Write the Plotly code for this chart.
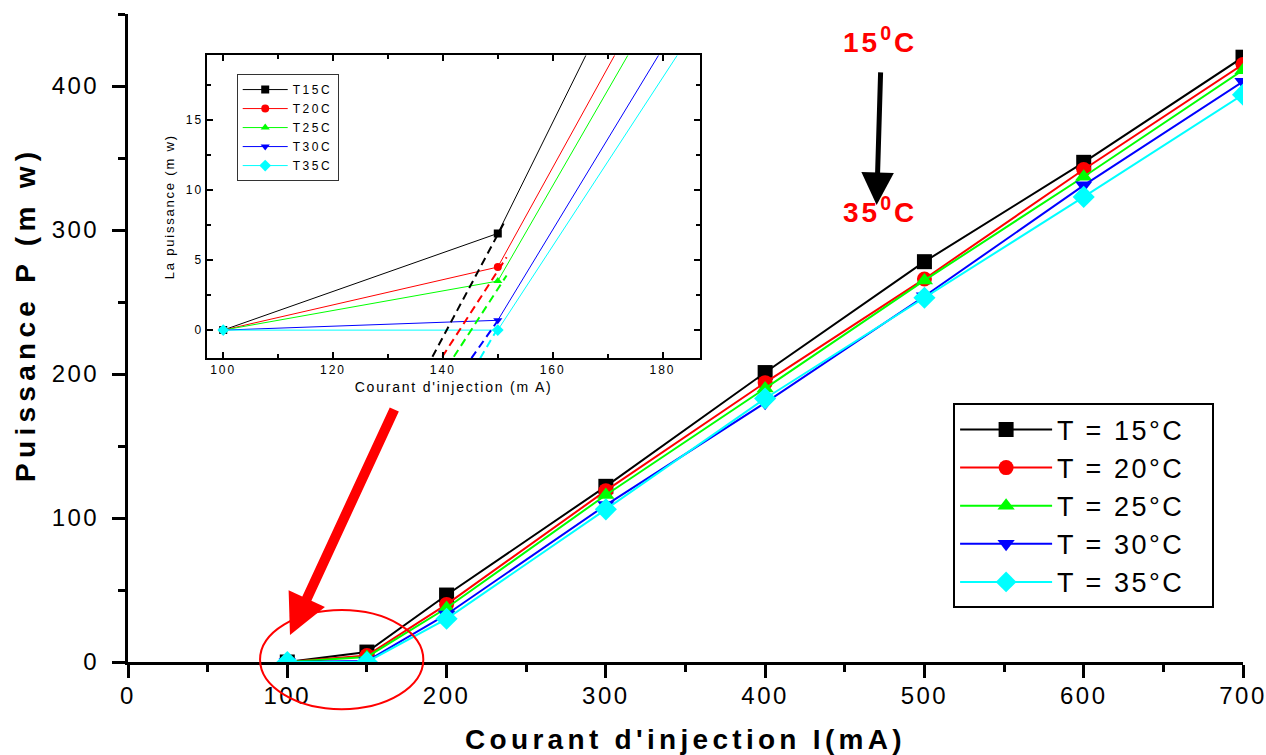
import plotly.graph_objects as go

# Injection current (mA) and optical power (mW) for each heat-sink temperature
current_ma = [100, 150, 200, 300, 400, 500, 600, 700]
power_15c = [0, 6.9, 46.5, 122, 201, 278, 347, 420]
power_20c = [0, 4.5, 40, 119, 194, 266, 342, 415]
power_25c = [0, 3.5, 37.5, 116, 190, 265, 337, 411]
power_30c = [0, 0.7, 33, 109, 180, 254, 331, 403]
power_35c = [0, 0.0, 30, 106, 183, 253, 323, 394]

temps = ["15", "20", "25", "30", "35"]
colors = ["#000000", "#ff0000", "#00ff00", "#0000ff", "#00ffff"]
symbols = ["square", "circle", "triangle-up", "triangle-down", "diamond"]
series = [power_15c, power_20c, power_25c, power_30c, power_35c]

# Threshold extrapolation segments shown in the zoomed panel
thr_x_start = [138.1, 139.9, 142.0, 145.2, 146.8]
thr_y_start = [-1.9, -1.9, -1.9, -2.0, -2.0]
thr_x_end = [151.2, 151.6, 151.6, 150.4, 150.1]
thr_y_end = [7.7, 5.2, 3.9, 0.9, 0.2]

main_xticks = [0, 100, 200, 300, 400, 500, 600, 700]
main_yticks = [0, 100, 200, 300, 400]
inset_xticks = [100, 120, 140, 160, 180]
inset_yticks = [0, 5, 10, 15]

X_RANGE = [0, 700]
Y_RANGE = [0, 450]
INSET_X_RANGE = [97.1, 186.8]
INSET_Y_RANGE = [-2.0, 19.6]

FONT = "Liberation Sans, Arial, sans-serif"
NBSP = "\u00a0"


def spaced(text, px):
    return f'<span style="letter-spacing:{px}px">{text}</span>'


def to_paper_x(v):
    return (v - X_RANGE[0]) / (X_RANGE[1] - X_RANGE[0])


def to_paper_y(v):
    return (v - Y_RANGE[0]) / (Y_RANGE[1] - Y_RANGE[0])


fig = go.Figure()

# main curves
for t, c, s, ys in zip(temps, colors, symbols, series):
    fig.add_trace(go.Scatter(
        x=current_ma, y=ys, mode="lines+markers",
        name=spaced(f"T = {t}°C", 2.5) + NBSP * 3,
        line=dict(color=c, width=2),
        marker=dict(symbol=s, size=17 if s == "diamond" else 15, color=c, line=dict(width=0)),
        xaxis="x", yaxis="y", legend="legend",
    ))

# zoomed panel curves
for t, c, s, ys in zip(temps, colors, symbols, series):
    fig.add_trace(go.Scatter(
        x=current_ma, y=ys, mode="lines+markers",
        name=spaced(f"T{t}C", 2.5),
        line=dict(color=c, width=1),
        marker=dict(symbol=s, size=9 if s == "diamond" else 8, color=c, line=dict(width=0)),
        xaxis="x2", yaxis="y2", legend="legend2",
    ))

# dashed threshold extrapolations
for c, xs, ys_, xe, ye in zip(colors, thr_x_start, thr_y_start, thr_x_end, thr_y_end):
    fig.add_trace(go.Scatter(
        x=[xs, xe], y=[ys_, ye], mode="lines",
        line=dict(color=c, width=2, dash="8px,5px"),
        showlegend=False, hoverinfo="skip", xaxis="x2", yaxis="y2",
    ))

axis_common = dict(showgrid=False, zeroline=False, showline=True, linecolor="black",
                   automargin=False)

main_tick_font = dict(family=FONT, size=24, color="black")
title_font = dict(family=FONT, size=28, color="black", weight="bold")

fig.update_layout(
    width=1266, height=755,
    margin=dict(l=128, r=23, t=14, b=93, pad=0, autoexpand=False),
    paper_bgcolor="white", plot_bgcolor="white",
    showlegend=True,
    xaxis=dict(
        **axis_common, domain=[0, 1], anchor="y", range=X_RANGE, linewidth=3,
        tickmode="array", tickvals=main_xticks,
        ticktext=[spaced(str(v), 2.5) for v in main_xticks],
        ticks="outside", ticklen=13, tickwidth=3, tickcolor="black",
        minor=dict(tickmode="linear", tick0=0, dtick=50, ticks="outside", ticklen=7,
                   tickwidth=3, tickcolor="black"),
        tickfont=main_tick_font, ticklabelstandoff=-3, ticklabeloverflow="allow",
        title=dict(text=spaced("Courant d'injection I(mA)", 4.3), font=title_font, standoff=22),
    ),
    xaxis3=dict(
        **axis_common, overlaying="x", anchor="y", range=X_RANGE, linewidth=3,
        mirror="ticks", tickmode="array", tickvals=main_xticks, showticklabels=False,
        ticks="inside", ticklen=13, tickwidth=3, tickcolor="black",
        minor=dict(tickmode="linear", tick0=0, dtick=50, ticks="inside", ticklen=7,
                   tickwidth=3, tickcolor="black"),
    ),
    yaxis=dict(
        **axis_common, domain=[0, 1], anchor="x", range=Y_RANGE, linewidth=3,
        tickmode="array", tickvals=main_yticks,
        ticktext=[spaced(str(v), 2.5) for v in main_yticks],
        ticks="outside", ticklen=13, tickwidth=3, tickcolor="black",
        minor=dict(tickmode="linear", tick0=0, dtick=50, ticks="outside", ticklen=7,
                   tickwidth=3, tickcolor="black"),
        tickfont=main_tick_font, ticklabelstandoff=8, ticklabeloverflow="allow",
    ),
    yaxis3=dict(
        **axis_common, overlaying="y", anchor="x", range=Y_RANGE, linewidth=3,
        mirror="ticks", tickmode="array", tickvals=main_yticks, showticklabels=False,
        ticks="inside", ticklen=13, tickwidth=3, tickcolor="black",
        minor=dict(tickmode="linear", tick0=0, dtick=50, ticks="inside", ticklen=7,
                   tickwidth=3, tickcolor="black"),
    ),
    xaxis2=dict(
        **axis_common, domain=[0.0711, 0.5129], anchor="y2", range=INSET_X_RANGE,
        linewidth=1.5, mirror="ticks",
        tickmode="array", tickvals=inset_xticks,
        ticktext=[spaced(str(v), 2) for v in inset_xticks],
        ticks="inside", ticklen=6, tickwidth=1.5, tickcolor="black",
        minor=dict(tickmode="linear", tick0=100, dtick=10, ticks="inside", ticklen=4,
                   tickwidth=1.5, tickcolor="black"),
        tickfont=dict(family=FONT, size=12, color="black"),
        title=dict(text=spaced("Courant d'injection (m A)", 1.8),
                   font=dict(family=FONT, size=14, color="black"), standoff=6),
    ),
    yaxis2=dict(
        **axis_common, domain=[0.4689, 0.9361], anchor="x2", range=INSET_Y_RANGE,
        linewidth=1.5, mirror="ticks",
        tickmode="array", tickvals=inset_yticks,
        ticktext=[spaced(str(v), 2) for v in inset_yticks],
        ticks="inside", ticklen=6, tickwidth=1.5, tickcolor="black",
        minor=dict(tickmode="linear", tick0=0, dtick=2.5, ticks="inside", ticklen=4,
                   tickwidth=1.5, tickcolor="black"),
        tickfont=dict(family=FONT, size=12, color="black"),
        title=dict(text=spaced("La puissance (m w)", 1.8),
                   font=dict(family=FONT, size=13, color="black"), standoff=8),
    ),
    legend=dict(
        x=0.74, y=0.399, xanchor="left", yanchor="top",
        bgcolor="white", bordercolor="black", borderwidth=2,
        font=dict(family=FONT, size=27, color="black"),
        itemwidth=92, tracegroupgap=0,
    ),
    legend2=dict(
        x=0.0975, y=0.9073, xanchor="left", yanchor="top",
        bgcolor="white", bordercolor="#333333", borderwidth=1,
        font=dict(family=FONT, size=12, color="black"),
        itemwidth=45, tracegroupgap=0,
    ),
)

# y-axis title, set slightly above the axis centre
fig.add_annotation(
    x=-0.0924, y=0.537, xref="paper", yref="paper", xanchor="center", yanchor="middle",
    textangle=-90, showarrow=False,
    text=spaced("Puissance P (m w)", 5.3), font=title_font,
)

# red ellipse around the threshold region
fig.add_shape(
    type="circle", xref="paper", yref="paper",
    x0=to_paper_x(82.9), x1=to_paper_x(185.4), y0=to_paper_y(-32.8), y1=to_paper_y(36.1),
    line=dict(color="red", width=2),
)

# temperature labels and arrows
red_label_font = dict(family=FONT, size=28, color="red", weight="bold")
fig.add_annotation(x=472, y=432, xref="x", yref="y", showarrow=False,
                   text=spaced("15<sup>0</sup>C", 3), font=red_label_font)
fig.add_annotation(x=472, y=314, xref="x", yref="y", showarrow=False,
                   text=spaced("35<sup>0</sup>C", 3), font=red_label_font)
fig.add_annotation(x=470, y=317.4, xref="x", yref="y", text="", showarrow=True,
                   ax=4, ay=-134, arrowhead=2, arrowsize=1.3, arrowwidth=5,
                   arrowcolor="black")
fig.add_annotation(x=101.7, y=18.75, xref="x", yref="y", text="", showarrow=True,
                   ax=105, ay=-227, arrowhead=2, arrowsize=0.8, arrowwidth=10,
                   arrowcolor="red")

fig.write_html("out.html")
